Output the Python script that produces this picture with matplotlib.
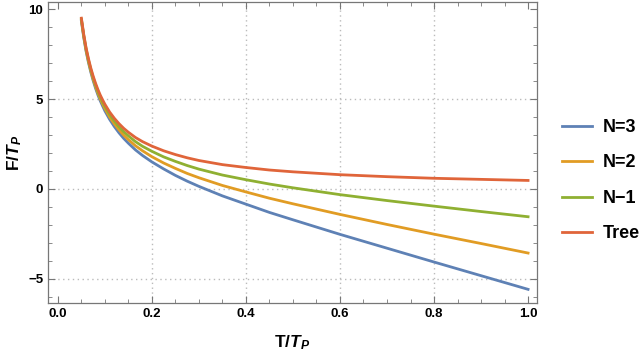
import numpy as np
import matplotlib
matplotlib.use("Agg")
import matplotlib.pyplot as plt
from matplotlib.ticker import MultipleLocator

plt.rcParams["font.family"] = "Liberation Sans"
plt.rcParams["mathtext.fontset"] = "custom"
plt.rcParams["mathtext.rm"] = "Liberation Sans:bold"
plt.rcParams["mathtext.it"] = "Liberation Sans:bold:italic"

# ── Data ──
T = [0.05, 0.055, 0.06, 0.065, 0.07, 0.075, 0.08, 0.085, 0.09, 0.095,
     0.10, 0.11, 0.12, 0.13, 0.14, 0.15, 0.165, 0.18, 0.20, 0.225,
     0.25, 0.275, 0.30, 0.35, 0.40, 0.45, 0.50, 0.60, 0.70, 0.80, 0.90, 1.00]
F_tree = [9.50, 8.60, 7.85, 7.25, 6.73, 6.28, 5.89, 5.54, 5.23, 4.96,
          4.71, 4.28, 3.93, 3.63, 3.37, 3.15, 2.86, 2.63, 2.38, 2.12,
          1.91, 1.73, 1.58, 1.35, 1.19, 1.05, 0.95, 0.79, 0.68, 0.59, 0.53, 0.47]
F_n1 = [9.45, 8.54, 7.79, 7.18, 6.65, 6.20, 5.80, 5.44, 5.12, 4.85,
        4.59, 4.14, 3.78, 3.46, 3.18, 2.95, 2.63, 2.37, 2.09, 1.78,
        1.53, 1.30, 1.10, 0.77, 0.51, 0.27, 0.06, -0.32, -0.65, -0.96, -1.26, -1.55]
F_n2 = [9.40, 8.49, 7.72, 7.11, 6.58, 6.11, 5.71, 5.34, 5.02, 4.73,
        4.47, 4.00, 3.62, 3.29, 2.99, 2.74, 2.40, 2.12, 1.79, 1.44,
        1.14, 0.86, 0.62, 0.19, -0.17, -0.52, -0.83, -1.42, -1.98, -2.52, -3.04, -3.57]
F_n3 = [9.35, 8.43, 7.66, 7.04, 6.50, 6.03, 5.61, 5.24, 4.91, 4.62,
        4.34, 3.87, 3.47, 3.12, 2.81, 2.54, 2.17, 1.86, 1.50, 1.11,
        0.75, 0.43, 0.14, -0.39, -0.85, -1.31, -1.72, -2.53, -3.30, -4.07, -4.83, -5.59]

labels = ["N=3", "N=2", "N\u22121", "Tree"]
colors = ["#5E81B5", "#E19C24", "#8FB032", "#E0653A"]

fig = plt.figure(figsize=(6.43, 3.54), dpi=100)
ax = fig.add_axes([48 / 643, 51 / 354, 489 / 643, 301 / 354])

# dotted grid at the interior major ticks only
for gx in [0.2, 0.4, 0.6, 0.8]:
    ax.axvline(gx, color="#BBBBBB", linestyle=(0, (1, 2.5)), linewidth=1, zorder=0)
for gy in [-5, 0, 5]:
    ax.axhline(gy, color="#BBBBBB", linestyle=(0, (1, 2.5)), linewidth=1, zorder=0)

for F, lab, c in zip([F_n3, F_n2, F_n1, F_tree], labels, colors):
    ax.plot(T, F, color=c, linewidth=2.0, label=lab, solid_joinstyle="round")

ax.set_xlim(-0.021, 1.019)
ax.set_ylim(-6.35, 10.4)
ax.xaxis.set_minor_locator(MultipleLocator(0.05))
ax.yaxis.set_minor_locator(MultipleLocator(1))
ax.set_xticks([0, 0.2, 0.4, 0.6, 0.8, 1.0])
ax.set_xticklabels(["0.0", "0.2", "0.4", "0.6", "0.8", "1.0"])
ax.set_yticks([-5, 0, 5, 10])
ax.set_yticklabels(["\u22125", "0", "5", "10"])

ax.tick_params(which="both", direction="in", top=True, right=True,
               color="#777777", labelsize=9.5)
ax.tick_params(which="major", length=5, width=0.8)
ax.tick_params(which="minor", length=3, width=0.6)
for lab in ax.get_xticklabels() + ax.get_yticklabels():
    lab.set_fontweight("bold")
for s in ax.spines.values():
    s.set_color("#777777")
    s.set_linewidth(0.9)

ax.set_xlabel("T/$T_P$", fontsize=12.5, fontweight="bold", labelpad=10)
ax.set_ylabel("F/$T_P$", fontsize=12.5, fontweight="bold", labelpad=3)

ax.legend(loc="upper left", bbox_to_anchor=(562 / 643, 1 - 119 / 354),
          bbox_transform=fig.transFigure, frameon=False,
          prop={"weight": "bold", "size": 13}, handlelength=1.65,
          labelspacing=1.02, handletextpad=0.6, borderpad=0, borderaxespad=0)

fig.savefig("out.png", dpi=100)
